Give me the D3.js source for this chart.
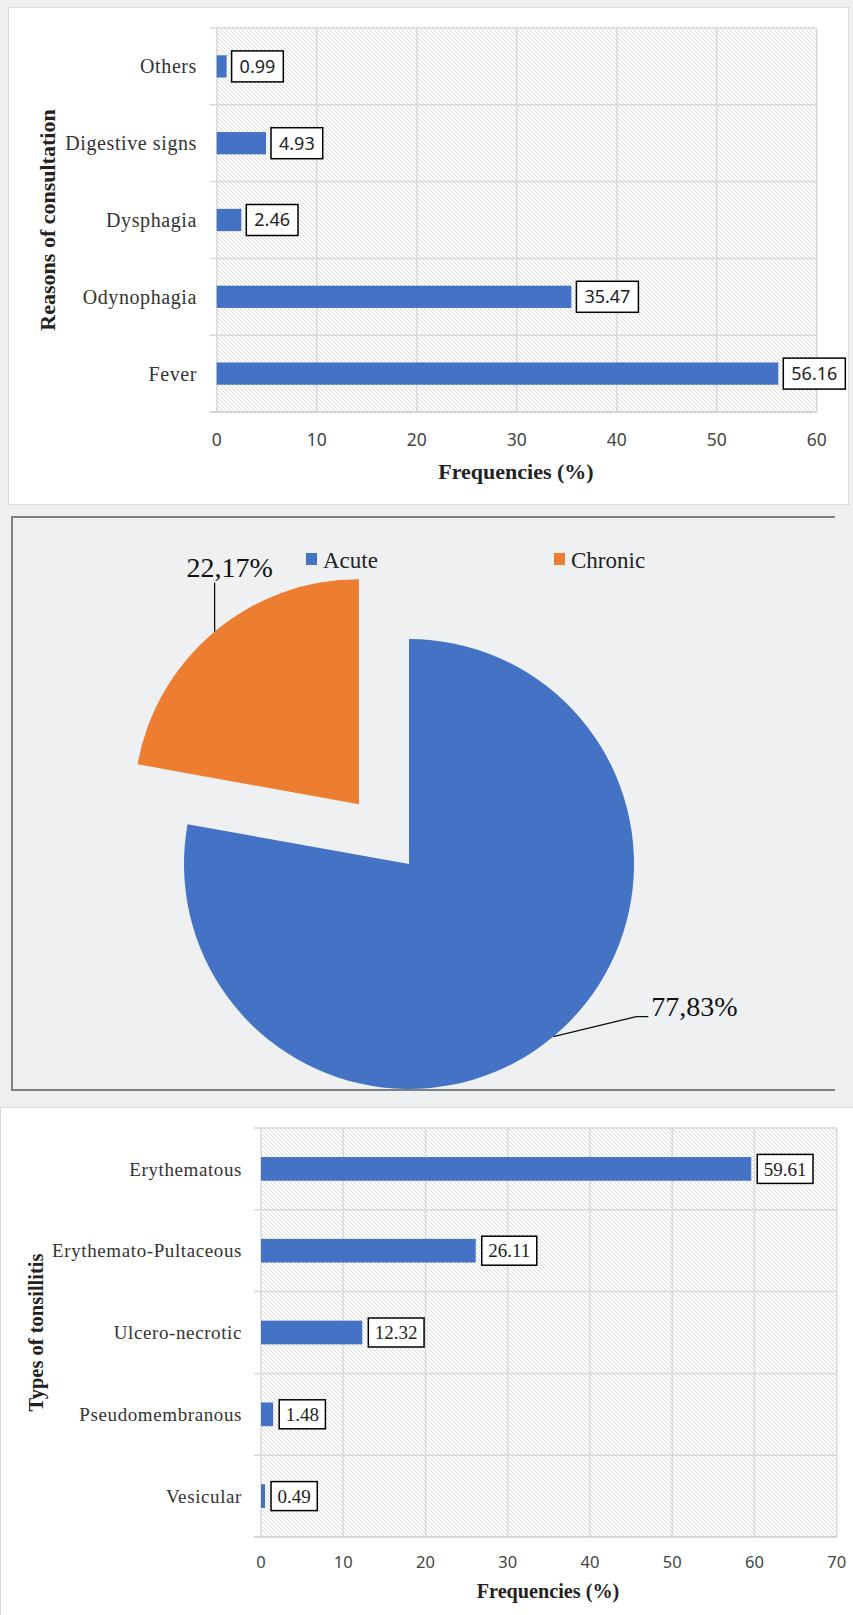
<!DOCTYPE html>
<html>
<head>
<meta charset="utf-8">
<script src="https://cdn.jsdelivr.net/npm/d3@7"></script>
<style>
  html, body { margin: 0; padding: 0; background: #eff0f2; }
  svg { display: block; }
</style>
</head>
<body>
<svg id="chart" width="853" height="1615"></svg>
<script>
// chart values
const reasons = ["Others", "Digestive signs", "Dysphagia", "Odynophagia", "Fever"];
const reasonValues = [0.99, 4.93, 2.46, 35.47, 56.16];
const reasonTicks = [0, 10, 20, 30, 40, 50, 60];

const courses = ["Acute", "Chronic"];
const courseValues = [77.83, 22.17];

const types = ["Erythematous", "Erythemato-Pultaceous", "Ulcero-necrotic", "Pseudomembranous", "Vesicular"];
const typeValues = [59.61, 26.11, 12.32, 1.48, 0.49];
const typeTicks = [0, 10, 20, 30, 40, 50, 60, 70];

const blue = "#4472c4";
const orange = "#ed7d31";
const serif = "'Liberation Serif', 'Times New Roman', serif";
const sans = "'Noto Sans', 'Open Sans', sans-serif";

let svg = d3.select("#chart");

// diagonal hatch used as plot background
let defs = svg.append("defs");
let pat = defs.append("pattern")
  .attr("id", "hatch")
  .attr("patternUnits", "userSpaceOnUse")
  .attr("width", 4).attr("height", 4);
pat.append("rect").attr("width", 4).attr("height", 4).attr("fill", "#fff");
pat.append("path")
  .attr("d", "M-1,-1L5,5M-1,3L1,5M3,-1L5,1")
  .attr("stroke", "#d6d6d6").attr("stroke-width", 0.9);

// panel backgrounds
svg.append("rect").attr("x", 8.5).attr("y", 7.5).attr("width", 840).attr("height", 497)
  .attr("fill", "#fff").attr("stroke", "#dcdcdc");
svg.append("rect").attr("x", 0.5).attr("y", 1107.5).attr("width", 853).attr("height", 510)
  .attr("fill", "#fff").attr("stroke", "#dcdcdc");

/**
 * horizontal bar chart with hatched plot area and boxed value labels
 */
function makeBarChart(cfg)
{
  let g = svg.append("g");

  let xScale = d3.scaleLinear().domain([0, cfg.ticks[cfg.ticks.length - 1]]).range([cfg.left, cfg.right]);
  let yScale = d3.scaleBand().domain(cfg.cats).range([cfg.top, cfg.bottom])
    .paddingInner(0.71).paddingOuter(0.355);
  let step = yScale.step();

  // plot area
  g.append("rect")
    .attr("x", cfg.left).attr("y", cfg.top)
    .attr("width", cfg.right - cfg.left).attr("height", cfg.bottom - cfg.top)
    .attr("fill", "url(#hatch)");

  // vertical gridlines
  g.append("g").selectAll("line")
    .data(cfg.ticks)
    .enter().append("line")
    .attr("x1", d => xScale(d)).attr("x2", d => xScale(d))
    .attr("y1", cfg.top).attr("y2", cfg.bottom)
    .attr("stroke", "#d9d9d9").attr("stroke-width", 1.5);

  // category dividers (with small outside tick)
  let dividers = d3.range(cfg.cats.length + 1).map(i => cfg.top + i * step);
  g.append("g").selectAll("line")
    .data(dividers)
    .enter().append("line")
    .attr("x1", cfg.left - 7).attr("x2", cfg.right)
    .attr("y1", d => d).attr("y2", d => d)
    .attr("stroke", "#d9d9d9").attr("stroke-width", 1.5);

  // bars
  g.append("g").selectAll("rect")
    .data(cfg.cats)
    .enter().append("rect")
    .attr("x", xScale(0))
    .attr("y", d => yScale(d))
    .attr("width", (d, i) => xScale(cfg.vals[i]) - xScale(0))
    .attr("height", yScale.bandwidth())
    .attr("fill", blue);

  // value labels in boxes
  cfg.cats.forEach(function(c, i) {
    let cy = yScale(c) + yScale.bandwidth() / 2;
    let bx = xScale(cfg.vals[i]) + cfg.gap;
    let box = g.append("rect")
      .attr("y", cy - cfg.boxH / 2).attr("height", cfg.boxH)
      .attr("x", bx)
      .attr("fill", "#fff").attr("stroke", "#000").attr("stroke-width", 1.5);
    let t = g.append("text")
      .attr("x", bx + cfg.pad).attr("y", cy)
      .attr("dy", "0.35em")
      .style("font-family", cfg.valFont).style("font-size", cfg.valSize + "px")
      .attr("fill", "#222")
      .text(cfg.vals[i].toFixed(2));
    let w = t.node().getComputedTextLength();
    box.attr("width", w + 2 * cfg.pad);
  });

  // category labels
  g.append("g").selectAll("text")
    .data(cfg.cats)
    .enter().append("text")
    .attr("x", cfg.labelX)
    .attr("y", d => yScale(d) + yScale.bandwidth() / 2)
    .attr("dy", "0.35em")
    .attr("text-anchor", "end")
    .style("font-family", serif).style("font-size", cfg.catSize + "px")
    .style("letter-spacing", "0.6px")
    .attr("fill", "#333")
    .text(d => d);

  // x axis line and tick labels
  g.append("line")
    .attr("x1", cfg.left - 7).attr("x2", cfg.right)
    .attr("y1", cfg.bottom).attr("y2", cfg.bottom)
    .attr("stroke", "#d0d0d0").attr("stroke-width", 1.5);

  g.append("g").selectAll("text")
    .data(cfg.ticks)
    .enter().append("text")
    .attr("x", d => xScale(d))
    .attr("y", cfg.tickY)
    .attr("dy", "0.35em")
    .attr("text-anchor", "middle")
    .style("font-family", sans).style("font-size", cfg.tickSize + "px")
    .attr("fill", "#444")
    .text(d => d);

  // axis titles
  g.append("text")
    .attr("x", cfg.xTitleX).attr("y", cfg.xTitleY)
    .attr("dy", "0.35em")
    .attr("text-anchor", "middle")
    .style("font-family", serif).style("font-weight", "bold").style("font-size", cfg.titleSize + "px")
    .attr("fill", "#222")
    .text("Frequencies (%)");

  g.append("text")
    .attr("transform", "translate(" + cfg.yTitleX + "," + ((cfg.top + cfg.bottom) / 2) + ") rotate(-90)")
    .attr("dy", "0.35em")
    .attr("text-anchor", "middle")
    .style("font-family", serif).style("font-weight", "bold").style("font-size", cfg.yTitleSize + "px")
    .attr("fill", "#222")
    .text(cfg.yTitle);
}

////////////////////////////////////////////////////////////////////////
// top: reasons of consultation

makeBarChart({
  cats: reasons, vals: reasonValues, ticks: reasonTicks,
  left: 216.7, right: 816.7, top: 28, bottom: 412,
  labelX: 197, catSize: 20,
  valFont: sans, valSize: 18, boxH: 31, pad: 8, gap: 5,
  tickY: 440, tickSize: 17.5,
  xTitleX: 516, xTitleY: 471, titleSize: 22,
  yTitle: "Reasons of consultation", yTitleX: 47, yTitleSize: 22
});

////////////////////////////////////////////////////////////////////////
// middle: acute vs chronic pie

let pieG = svg.append("g");
pieG.append("path")
  .attr("d", "M835,517L12,517L12,1090L835,1090")
  .attr("fill", "none").attr("stroke", "#808080").attr("stroke-width", 2);

let cx = 409, cy = 864, radius = 225, explode = 78;
let slices = d3.pie().sort(null).value(d => d)(courseValues);
let arc = d3.arc().innerRadius(0).outerRadius(radius);

slices.forEach(function(s, i) {
  let mid = (s.startAngle + s.endAngle) / 2;
  let off = i === 1 ? explode : 0;
  let ox = cx + Math.sin(mid) * off;
  let oy = cy - Math.cos(mid) * off;
  pieG.append("path")
    .attr("transform", "translate(" + ox + "," + oy + ")")
    .attr("d", arc(s))
    .attr("fill", i === 0 ? blue : orange);

  // leader line and percentage label
  let px = ox + Math.sin(mid) * radius;
  let py = oy - Math.cos(mid) * radius;
  let label = courseValues[i].toFixed(2).replace(".", ",") + "%";
  if (i === 1) {
    pieG.append("line")
      .attr("x1", px).attr("y1", py).attr("x2", px).attr("y2", py - 49)
      .attr("stroke", "#111").attr("stroke-width", 1.3);
    pieG.append("text")
      .attr("x", px + 15).attr("y", py - 55)
      .attr("text-anchor", "middle")
      .style("font-family", serif).style("font-size", "28px")
      .attr("fill", "#111")
      .text(label);
  } else {
    pieG.append("polyline")
      .attr("points", [[px, py], [px + 83, py - 20], [px + 95, py - 20]].map(p => p.join(",")).join(" "))
      .attr("fill", "none").attr("stroke", "#111").attr("stroke-width", 1.3);
    pieG.append("text")
      .attr("x", px + 98).attr("y", py - 21)
      .style("font-family", serif).style("font-size", "28px")
      .attr("fill", "#111")
      .text(label);
  }
});

// legend
let legendX = [306, 554];
courses.forEach(function(c, i) {
  pieG.append("rect")
    .attr("x", legendX[i]).attr("y", 553).attr("width", 11).attr("height", 12)
    .attr("fill", i === 0 ? blue : orange);
  pieG.append("text")
    .attr("x", legendX[i] + 17).attr("y", 568)
    .style("font-family", serif).style("font-size", "23px")
    .attr("fill", "#222")
    .text(c);
});

////////////////////////////////////////////////////////////////////////
// bottom: types of tonsillitis

makeBarChart({
  cats: types, vals: typeValues, ticks: typeTicks,
  left: 261, right: 836.7, top: 1128, bottom: 1537,
  labelX: 242, catSize: 19,
  valFont: serif, valSize: 19, boxH: 29, pad: 6.5, gap: 6,
  tickY: 1562, tickSize: 16.5,
  xTitleX: 548, xTitleY: 1591, titleSize: 20.2,
  yTitle: "Types of tonsillitis", yTitleX: 36, yTitleSize: 20.5
});
</script>
</body>
</html>
